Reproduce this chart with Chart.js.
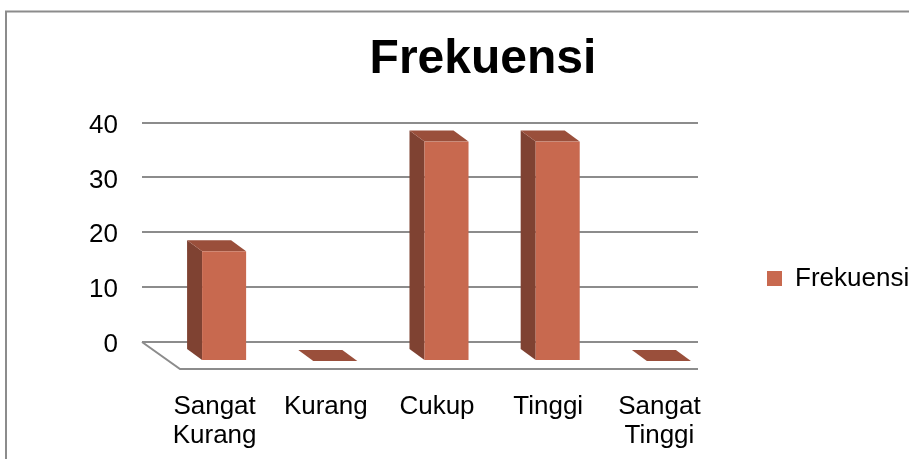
<!DOCTYPE html>
<html>
<head>
<meta charset="utf-8">
<script src="https://cdn.jsdelivr.net/npm/chart.js@4.4.1/dist/chart.umd.min.js"></script>
<style>
  html, body { margin: 0; padding: 0; background: #fff; overflow: hidden; }
  #wrap { width: 920px; height: 459px; }
</style>
</head>
<body>
<div id="wrap"><canvas id="barChart" width="920" height="459"></canvas></div>
<script>
// data
const categories = [['Sangat', 'Kurang'], 'Kurang', 'Cukup', 'Tinggi', ['Sangat', 'Tinggi']]
const frekuensi = [20, 0, 40, 40, 0]
const yTicks = [0, 10, 20, 30, 40]

const FONT = "'Liberation Sans', Arial, sans-serif"
const FRONT = '#C8694F'
const SIDE = '#7F4232'
const TOP = '#9A4F3B'
const GRID = '#8c8c8c'

// depth offsets for the fake 3d look
const BACK = {x: 11.5, y: 8}
const FRONTOFF = {x: 26.5, y: 19}
const FLOOR = {x: 38, y: 27}

const frame = {
    id: 'frame',
    beforeDraw(chart) {
        const c = chart.ctx
        c.save()
        c.fillStyle = '#fff'
        c.fillRect(0, 0, chart.width, chart.height)
        c.strokeStyle = GRID
        c.lineWidth = 2
        c.strokeRect(6, 11.5, chart.width + 20, chart.height + 20)
        c.restore()
    },
    beforeDatasetsDraw(chart) {
        // floor of the 3d plot
        const c = chart.ctx
        const a = chart.chartArea
        const y0 = chart.scales.y.getPixelForValue(yTicks[0])
        c.save()
        c.strokeStyle = GRID
        c.lineWidth = 2
        c.beginPath()
        c.moveTo(a.left, y0)
        c.lineTo(a.left + FLOOR.x, y0 + FLOOR.y)
        c.lineTo(a.right, y0 + FLOOR.y)
        c.stroke()
        c.restore()
    },
    beforeDatasetDraw(chart, args) {
        const c = chart.ctx
        args.meta.data.forEach(bar => {
            const p = bar.getProps(['x', 'y', 'base', 'width'], true)
            const L = p.x - p.width / 2, R = p.x + p.width / 2
            const yT = p.y, yB = p.base
            c.save()
            // side
            c.fillStyle = SIDE
            c.beginPath()
            c.moveTo(L + BACK.x, yT + BACK.y)
            c.lineTo(L + FRONTOFF.x, yT + FRONTOFF.y)
            c.lineTo(L + FRONTOFF.x, yB + FRONTOFF.y)
            c.lineTo(L + BACK.x, yB + BACK.y)
            c.closePath()
            c.fill()
            // top
            c.fillStyle = TOP
            c.beginPath()
            c.moveTo(L + BACK.x, yT + BACK.y)
            c.lineTo(R + BACK.x, yT + BACK.y)
            c.lineTo(R + FRONTOFF.x, yT + FRONTOFF.y)
            c.lineTo(L + FRONTOFF.x, yT + FRONTOFF.y)
            c.closePath()
            c.fill()
            // front
            c.fillStyle = FRONT
            c.fillRect(L + FRONTOFF.x, yT + FRONTOFF.y, R - L, yB - yT)
            c.restore()
        })
        return false
    }
}

const ctx = document.getElementById('barChart')

new Chart(
    ctx, {
        type: 'bar',
        data: {
            labels: categories,
            datasets: [
                {
                    label: 'Frekuensi',
                    data: frekuensi,
                    backgroundColor: FRONT,
                    borderColor: FRONT,
                    borderWidth: 0,
                    categoryPercentage: 1,
                    barPercentage: 0.396
                }
            ]
        },
        plugins: [frame],
        options: {
            responsive: false,
            animation: false,
            layout: {padding: {left: 53, top: 14, right: 7, bottom: 0}},
            plugins: {
                title: {
                    display: true,
                    text: 'Frekuensi',
                    color: '#000',
                    font: {family: FONT, size: 48, weight: 'bold'},
                    padding: {top: 17, bottom: 34}
                },
                legend: {
                    position: 'right',
                    title: {
                        display: true,
                        text: ' ',
                        font: {family: FONT, size: 26, lineHeight: 1},
                        padding: {top: 0, bottom: 58}
                    },
                    labels: {
                        color: '#000',
                        font: {family: FONT, size: 26},
                        boxWidth: 15,
                        boxHeight: 15,
                        padding: 69
                    }
                },
                tooltip: {enabled: false}
            },
            scales: {
                x: {
                    grid: {display: false},
                    border: {display: false},
                    ticks: {
                        color: '#000',
                        font: {family: FONT, size: 26, lineHeight: 1.1},
                        labelOffset: 17,
                        padding: 43,
                        maxRotation: 0,
                        autoSkip: false
                    },
                    afterFit(axis) { axis.height = 117 }
                },
                y: {
                    min: yTicks[0],
                    max: yTicks[yTicks.length - 1],
                    border: {display: false},
                    grid: {color: GRID, lineWidth: 2, drawTicks: false},
                    ticks: {
                        stepSize: 10,
                        color: '#000',
                        font: {family: FONT, size: 26},
                        padding: 24,
                        labelOffset: 3
                    },
                    afterFit(axis) { axis.width = 89 }
                }
            }
        }
    }
)
</script>
</body>
</html>
